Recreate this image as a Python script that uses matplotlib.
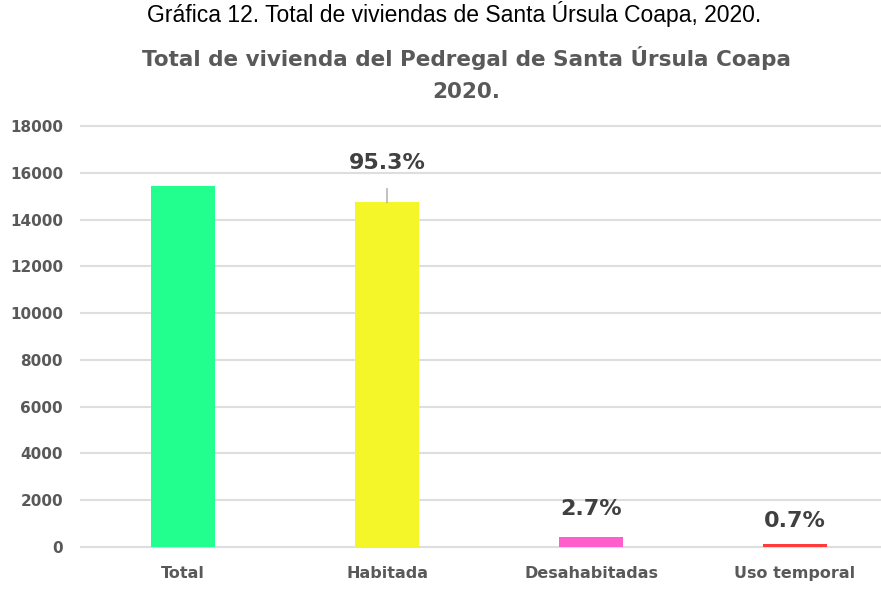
import matplotlib
matplotlib.use("Agg")
import matplotlib.pyplot as plt
from matplotlib.ticker import FixedLocator

categories = ["Total", "Habitada", "Desahabitadas", "Uso temporal"]
values = [15456, 14730, 417, 108]
pct_labels = ["", "95.3%", "2.7%", "0.7%"]
yticks = [0, 2000, 4000, 6000, 8000, 10000, 12000, 14000, 16000, 18000]
colors = ["#22FF8F", "#F4F62A", "#FF5FCB", "#FF3B3B"]
label_offsets_px = [0, 39, 28, 23]

W, H = 881, 592
fig = plt.figure(figsize=(W / 100, H / 100), dpi=100)
fig.patch.set_facecolor("white")

left, right = 81, 897
bottom, top = 547, 126
ax = fig.add_axes([left / W, 1 - bottom / H, (right - left) / W, (bottom - top) / H])
ax.set_xlim(-0.5, 3.5)
ax.set_ylim(0, 18000)

x = list(range(len(categories)))
ax.bar(x, values, width=0.314, color=colors, zorder=3)

ax.yaxis.set_major_locator(FixedLocator(yticks))
ax.set_yticklabels([str(t) for t in yticks])
ax.grid(axis="y", color="#dedede", linewidth=1.5, zorder=0)
for gl in ax.get_ygridlines():
    gl.set_clip_on(False)
ax.set_axisbelow(True)
for s in ax.spines.values():
    s.set_visible(False)
ax.tick_params(axis="y", length=0, pad=13, labelsize=11, labelcolor="#595959")
ax.tick_params(axis="x", length=0, pad=14, labelsize=11.5, labelcolor="#595959")
ax.set_xticks(x)
ax.set_xticklabels(categories)
for lbl in ax.get_xticklabels() + ax.get_yticklabels():
    lbl.set_fontweight("heavy")
    lbl.set_family("DejaVu Sans")

# data labels
for xi, v, lab, off in zip(x, values, pct_labels, label_offsets_px):
    if not lab:
        continue
    ax.annotate(lab, xy=(xi, v), xytext=(0, off * 0.72), textcoords="offset points",
                ha="center", va="center", fontsize=16, fontweight="bold",
                color="#404040", family="DejaVu Sans", zorder=5)
# leader line for Habitada label
ax.annotate("", xy=(1, values[1]), xytext=(0, 10), textcoords="offset points",
            arrowprops=dict(arrowstyle="-", color="#a6a6a6", lw=1.0,
                            shrinkA=0, shrinkB=0), zorder=4)

fig.text(454 / W, 1 - 14 / H, "Gráfica 12. Total de viviendas de Santa Úrsula Coapa, 2020.",
         ha="center", va="center", fontsize=16.5, family="Liberation Sans", color="#000000")
fig.text(466 / W, 1 - 58 / H, "Total de vivienda del Pedregal de Santa Úrsula Coapa",
         ha="center", va="center", fontsize=15.5, fontweight="bold",
         family="DejaVu Sans", color="#595959")
fig.text(466 / W, 1 - 92 / H, "2020.",
         ha="center", va="center", fontsize=15.5, fontweight="bold",
         family="DejaVu Sans", color="#595959")

fig.savefig("out.png", dpi=100, facecolor="white")
